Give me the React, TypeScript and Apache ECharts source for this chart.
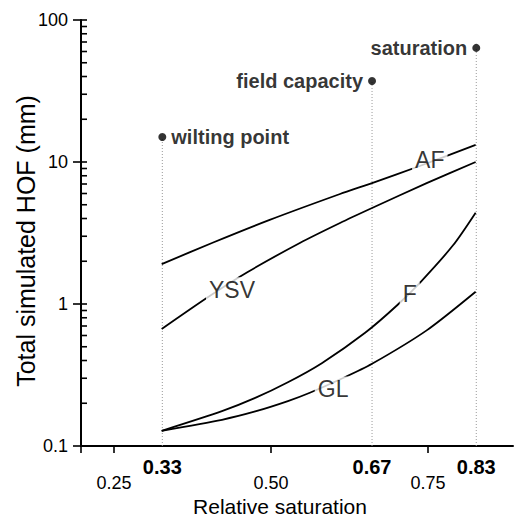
import React, { useEffect, useRef } from "react";
import * as echarts from "echarts";

// Curves: [relative saturation, total simulated HOF (mm)]
const afData = [[0.326, 1.91], [0.408, 2.71], [0.498, 3.91], [0.61, 5.95], [0.661, 7.11], [0.737, 9.37], [0.826, 13.2]];
const ysvData = [[0.326, 0.667], [0.4, 1.12], [0.463, 1.68], [0.546, 2.69], [0.61, 3.72], [0.661, 4.74], [0.748, 7.1], [0.826, 10]];
const fData = [[0.326, 0.128], [0.422, 0.176], [0.475, 0.218], [0.527, 0.281], [0.581, 0.383], [0.65, 0.627], [0.701, 0.98], [0.739, 1.44], [0.79, 2.59], [0.826, 4.4]];
const glData = [[0.326, 0.128], [0.422, 0.153], [0.475, 0.175], [0.527, 0.207], [0.562, 0.237], [0.615, 0.301], [0.661, 0.379], [0.748, 0.652], [0.826, 1.22]];

const curveNames = ["AF", "YSV", "F", "GL"];
const curveLabelX = [0.753, 0.438, 0.721, 0.599];
const curveLabelY = [10.3, 1.26, 1.17, 0.252];

// Soil water reference points
const markerX = [0.327, 0.661, 0.827];
const markerY = [15.0, 37.2, 63.6];
const markerNames = ["wilting point", "field capacity", "saturation"];
const markerTickLabels = ["0.33", "0.67", "0.83"];
const markerLabelSide = ["right", "left", "left"];

const xTickValues = [0.25, 0.5, 0.75];
const xTickLabels = ["0.25", "0.50", "0.75"];
const yMin = 0.1;
const yMax = 100;
const xMin = 0.1975;
const xMax = 0.8855;
const yInsideTicks = [0.1, 0.2, 0.3, 0.4, 0.5, 0.6, 0.7, 0.8, 0.9, 1, 2, 3, 4, 5, 6, 7, 8, 9, 10, 20, 30, 40, 50, 60, 70, 80, 90, 100];

const FONT = "Liberation Sans";

export default function App() {
  const ref = useRef<HTMLDivElement>(null);
  useEffect(() => {
    const chart = echarts.init(ref.current!, null, { renderer: "svg" });
    const curveData = [afData, ysvData, fData, glData];
    const lineSeries = curveData.map((d, i) => ({
      type: "line",
      name: curveNames[i],
      data: d,
      smooth: 0.25,
      showSymbol: false,
      symbol: "none",
      lineStyle: { color: "#000", width: 1.8 },
      z: 3,
    }));
    const verticals = markerX.map((x, i) => ({
      type: "line",
      data: [[x, yMin], [x, markerY[i]]],
      showSymbol: false,
      symbol: "none",
      lineStyle: { color: "#9a9a9a", width: 1, type: [1, 2] },
      z: 1,
    }));
    const option = {
      animation: false,
      grid: { left: 81, right: 2, top: 20, bottom: 71, containLabel: false, outerBoundsMode: "none" },
      xAxis: [
        {
          type: "value",
          min: xMin,
          max: xMax,
          name: "Relative saturation",
          nameLocation: "middle",
          nameGap: 50,
          nameMoveOverlap: false,
          nameTextStyle: { fontFamily: FONT, fontSize: 21, lineHeight: 20, color: "#000", padding: [0, 34, 0, 0] },
          axisLine: { show: true, lineStyle: { color: "#000", width: 2 } },
          axisTick: { show: true, inside: false, length: 7, lineStyle: { color: "#000", width: 1.6 }, customValues: [xMin, ...xTickValues] },
          axisLabel: {
            show: true,
            margin: 28,
            customValues: xTickValues,
            fontFamily: FONT,
            fontSize: 18,
            color: "#000",
            formatter: (v: number) => {
              const k = xTickValues.findIndex((t) => Math.abs(t - v) < 1e-6);
              return k >= 0 ? xTickLabels[k] : "";
            },
          },
          splitLine: { show: false },
        },
        {
          type: "value",
          min: xMin,
          max: xMax,
          position: "bottom",
          axisLine: { show: false },
          axisTick: { show: false },
          axisLabel: {
            show: true,
            margin: 11,
            customValues: markerX,
            fontFamily: FONT,
            fontSize: 20,
            fontWeight: "bold",
            color: "#000",
            formatter: (v: number) => {
              const k = markerX.findIndex((t) => Math.abs(t - v) < 1e-6);
              return k >= 0 ? markerTickLabels[k] : "";
            },
          },
          splitLine: { show: false },
        },
      ],
      yAxis: {
        type: "log",
        logBase: 10,
        min: yMin,
        max: yMax,
        name: "Total simulated HOF (mm)",
        nameLocation: "middle",
        nameGap: 42,
        nameMoveOverlap: false,
        nameRotate: 90,
        nameTextStyle: { fontFamily: FONT, fontSize: 25, lineHeight: 26, color: "#000", padding: [0, 16, 0, 0] },
        axisLine: { show: true, lineStyle: { color: "#000", width: 2 } },
        axisTick: { show: true, inside: false, length: 8, lineStyle: { color: "#000", width: 1.6 } },
        minorTick: { show: false },
        axisLabel: {
          margin: 13,
          fontFamily: FONT,
          fontSize: 18,
          color: "#000",
          formatter: (v: number) => (v < 1 ? String(Number(v.toPrecision(2))) : String(Math.round(v))),
        },
        splitLine: { show: false },
      },
      series: [
        {
          type: "custom",
          clip: false,
          silent: true,
          renderItem: (params: any, api: any) => {
            const p = api.coord([api.value(0), api.value(1)]);
            return {
              type: "line",
              shape: { x1: p[0], y1: p[1], x2: p[0] + 6, y2: p[1] },
              style: { stroke: "#000", lineWidth: 1.6 },
            };
          },
          data: yInsideTicks.map((v) => [xMin, v]),
          z: 4,
        },
        ...verticals,
        ...lineSeries,
        {
          type: "scatter",
          symbolSize: 0,
          data: curveNames.map((n, i) => ({ name: n, value: [curveLabelX[i], curveLabelY[i]] })),
          label: {
            show: true,
            position: "inside",
            formatter: (p: any) => p.name,
            fontFamily: FONT,
            fontSize: 23,
            color: "#000",
            backgroundColor: "#fff",
            padding: [1, 3],
          },
          z: 10,
        },
        {
          type: "scatter",
          symbol: "circle",
          symbolSize: 8,
          itemStyle: { color: "#000" },
          data: markerNames.map((n, i) => ({
            name: n,
            value: [markerX[i], markerY[i]],
            label: { position: markerLabelSide[i] },
          })),
          label: {
            show: true,
            distance: 5,
            formatter: (p: any) => p.name,
            fontFamily: FONT,
            fontSize: 20,
            fontWeight: "bold",
            color: "#000",
          },
          z: 10,
        },
      ],
    };
    chart.setOption(option as any);
    return () => chart.dispose();
  }, []);
  return <div ref={ref} style={{ position: "fixed", left: 0, top: 0, width: 515, height: 517, background: "#fff" }} />;
}
